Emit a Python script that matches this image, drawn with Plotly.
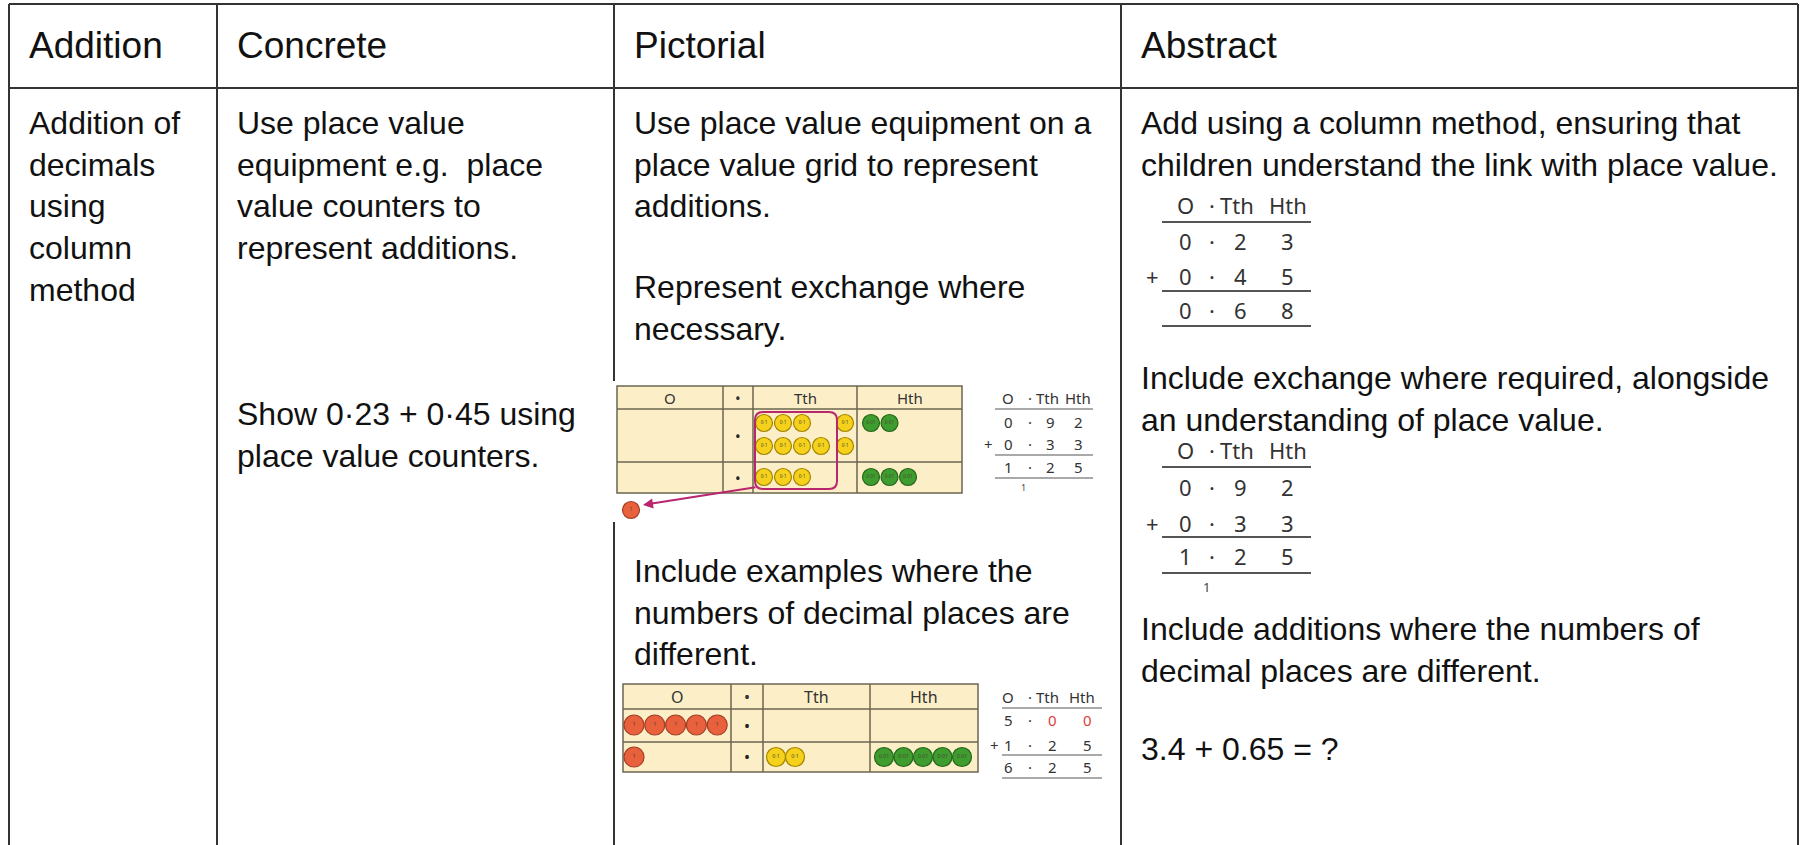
import plotly.graph_objects as go

W, H = 1803, 845

# ---------------- data ----------------
header_labels = ["Addition", "Concrete", "Pictorial", "Abstract"]

col1_lines = ["Addition of", "decimals", "using", "column", "method"]
col2_par1 = ["Use place value", "equipment e.g.\u00a0 place", "value counters to", "represent additions."]
col2_par2 = ["Show 0\u00b723 + 0\u00b745 using", "place value counters."]
col3_par1 = ["Use place value equipment on a", "place value grid to represent", "additions."]
col3_par2 = ["Represent exchange where", "necessary."]
col3_par3 = ["Include examples where the", "numbers of decimal places are", "different."]
col4_par1 = ["Add using a column method, ensuring that", "children understand the link with place value."]
col4_par2 = ["Include exchange where required, alongside", "an understanding of place value."]
col4_par3 = ["Include additions where the numbers of", "decimal places are different."]
col4_par4 = ["3.4 + 0.65 = ?"]

pv_headers = ["O", "\u2022", "Tth", "Hth"]
col_headers = ["O", "\u00b7", "Tth", "Hth"]

# place value grid 1: 0.92 + 0.33 (counts per row)
grid1_tth = [9, 3]
grid1_hth = [2, 3]
grid1_exchanged_ones = 1
# place value grid 2: 5 + 1.25
grid2_ones = [5, 1]
grid2_tth = [0, 2]
grid2_hth = [0, 5]

# column additions (ones, tenths, hundredths)
sum_a1 = [["0", "2", "3"], ["0", "4", "5"], ["0", "6", "8"]]
sum_a2 = [["0", "9", "2"], ["0", "3", "3"], ["1", "2", "5"]]
sum_p1 = [["0", "9", "2"], ["0", "3", "3"], ["1", "2", "5"]]
sum_p2 = [["5", "0", "0"], ["1", "2", "5"], ["6", "2", "5"]]
carry_digit = "1"

counter_labels = {"ones": "1", "tth": "0\u00b71", "hth": "0\u00b701"}

# ---------------- styling ----------------
FONT = "Liberation Sans, Arial, sans-serif"
MFONT = "Noto Sans, Open Sans, sans-serif"
BODY = 32
HEAD = 37
LINE = 41.7
TXT = "#111111"
GRID_FILL = "#FCEFC8"
GRID_LINE = "#6b6650"
YEL, YEL_E = "#F6D11C", "#A38400"
GRN, GRN_E = "#3F9C2F", "#256619"
RED, RED_E = "#E8603C", "#A33E25"
MAG = "#B8266E"

col_edges = [9, 217, 614, 1121, 1798]
row_edges = [4, 88, 850]
pad = 18

fig = go.Figure()
shapes = []
ann = []


def line(x0, y0, x1, y1, color="#333333", width=2):
    shapes.append(dict(type="line", x0=x0, y0=y0, x1=x1, y1=y1, xref="x", yref="y",
                       layer="below", line=dict(color=color, width=width)))


def text(x, y, s, size=BODY, color=TXT, family=FONT, xanchor="left"):
    ann.append(dict(x=x, y=y, text=s, xref="x", yref="y", showarrow=False,
                    xanchor=xanchor, yanchor="middle",
                    font=dict(family=family, size=size, color=color)))


def para(col, y0, lines):
    for i, s in enumerate(lines):
        text(col_edges[col] + pad, y0 + i * LINE, s)


# table borders
for x in col_edges:
    line(x, row_edges[0], x, row_edges[2])
line(col_edges[0], row_edges[0], col_edges[-1], row_edges[0])
line(col_edges[0], row_edges[1], col_edges[-1], row_edges[1])

# header
for i, s in enumerate(header_labels):
    text(col_edges[i] + pad, 45, s, size=HEAD)

# body text
para(0, 123, col1_lines)
para(1, 123, col2_par1)
para(1, 414, col2_par2)
para(2, 123, col3_par1)
para(2, 287, col3_par2)
para(2, 571, col3_par3)
para(3, 123, col4_par1)
para(3, 378, col4_par2)
para(3, 629, col4_par3)
para(3, 749, col4_par4)

# white background of pasted picture (covers border)
shapes.append(dict(type="rect", x0=611, x1=1104, y0=381, y1=522, xref="x", yref="y",
                   layer="below", fillcolor="white", line=dict(width=0)))


def pv_grid(xe, ye, hsize):
    shapes.append(dict(type="rect", x0=xe[0], x1=xe[-1], y0=ye[0], y1=ye[-1], xref="x", yref="y",
                       layer="below", fillcolor=GRID_FILL, line=dict(color=GRID_LINE, width=1.5)))
    for x in xe[1:-1]:
        line(x, ye[0], x, ye[-1], GRID_LINE, 1.5)
    for y in ye[1:-1]:
        line(xe[0], y, xe[-1], y, GRID_LINE, 1.5)
    hy = (ye[0] + ye[1]) / 2
    for i, s in enumerate(pv_headers):
        text((xe[i] + xe[i + 1]) / 2, hy, s, size=hsize, color="#333333", family=MFONT, xanchor="center")
    for r in range(len(ye) - 2):
        text((xe[1] + xe[2]) / 2, (ye[r + 1] + ye[r + 2]) / 2, "\u2022", size=hsize,
             color="#222222", family=MFONT, xanchor="center")


def counters(xs, ys, fill, edge, label, size):
    fig.add_trace(go.Scatter(x=xs, y=ys, mode="markers+text", text=[label] * len(xs),
                             textposition="middle center",
                             textfont=dict(size=max(4, size * 0.28), color="#4a4a30", family=MFONT),
                             marker=dict(size=size, color=fill, line=dict(color=edge, width=1.2)),
                             hoverinfo="skip", showlegend=False))


def row_positions(n, x0, step, y):
    return [x0 + step * k for k in range(n)], [y] * n


# ---- grid 1 ----
g1x = [617, 723, 753, 857, 962]
g1y = [386, 409, 462, 493]
pv_grid(g1x, g1y, 15)
tth_slots_x = [764, 783, 802, 821, 845]
tth_lines_y = [423, 446]
# first-row tenths: 7 grouped for exchange, 2 left over in the last slot
slot_order = [(0, 0), (1, 0), (2, 0), (0, 1), (1, 1), (2, 1), (3, 1), (4, 0), (4, 1)]
xs = [tth_slots_x[s] for s, l in slot_order[:grid1_tth[0]]]
ys = [tth_lines_y[l] for s, l in slot_order[:grid1_tth[0]]]
x2, y2 = row_positions(grid1_tth[1], 764, 19, 477)
counters(xs + x2, ys + y2, YEL, YEL_E, counter_labels["tth"], 17)
hx1, hy1 = row_positions(grid1_hth[0], 871, 18.5, 423)
hx2, hy2 = row_positions(grid1_hth[1], 871, 18.5, 477)
counters(hx1 + hx2, hy1 + hy2, GRN, GRN_E, counter_labels["hth"], 17)
ox, oy = row_positions(grid1_exchanged_ones, 631, 20, 510)
counters(ox, oy, RED, RED_E, counter_labels["ones"], 17)
# exchange loop and arrow
shapes.append(dict(type="path", xref="x", yref="y", layer="above",
                   path="M 763 412 L 829 412 Q 837 412 837 420 L 837 481 Q 837 489 829 489 "
                        "L 763 489 Q 755 489 755 481 L 755 420 Q 755 412 763 412 Z",
                   line=dict(color=MAG, width=2)))
ann.append(dict(x=643, y=505, ax=757, ay=487, xref="x", yref="y", axref="x", ayref="y",
                text="", showarrow=True, arrowhead=2, arrowsize=1, arrowwidth=2, arrowcolor=MAG))

# ---- grid 2 ----
g2x = [623, 731, 763, 870, 978]
g2y = [684, 709, 742, 772]
pv_grid(g2x, g2y, 16)
r1x, r1y = row_positions(grid2_ones[0], 634, 20.8, 725)
r2x, r2y = row_positions(grid2_ones[1], 634, 20.8, 757)
counters(r1x + r2x, r1y + r2y, RED, RED_E, counter_labels["ones"], 20)
t1x, t1y = row_positions(grid2_tth[0], 776, 19, 725)
t2x, t2y = row_positions(grid2_tth[1], 776, 19, 757)
counters(t1x + t2x, t1y + t2y, YEL, YEL_E, counter_labels["tth"], 19)
h1x, h1y = row_positions(grid2_hth[0], 884, 19.5, 725)
h2x, h2y = row_positions(grid2_hth[1], 884, 19.5, 757)
counters(h1x + h2x, h1y + h2y, GRN, GRN_E, counter_labels["hth"], 19)


# ---- column additions ----
def column_sum(hx, dx, plus_x, hy, rys, lys, lx, rows, fs, lw, red=None, carry=None):
    for i, s in enumerate(col_headers):
        text(hx[i], hy, s, size=fs, color="#333333", family=MFONT, xanchor="center")
    for r, digits in enumerate(rows):
        y = rys[r]
        vals = [digits[0], "\u00b7", digits[1], digits[2]]
        for i, s in enumerate(vals):
            c = "#333333"
            if red and (r, i) in red:
                c = "#E0403A"
            text(dx[i], y, s, size=fs, color=c, family=MFONT, xanchor="center")
    text(plus_x, rys[1], "+", size=fs, color="#333333", family=MFONT, xanchor="center")
    for y in lys:
        line(lx[0], y, lx[1], y, "#555555", lw)
    if carry:
        text(carry[0], carry[1], carry_digit, size=carry[2], color="#444444", family=MFONT, xanchor="center")


column_sum([1185, 1212, 1237, 1288], [1185, 1212, 1240, 1287], 1152, 205, [241, 276, 310],
           [222, 291, 326], (1162, 1311), sum_a1, 22, 2)
column_sum([1185, 1212, 1237, 1288], [1185, 1212, 1240, 1287], 1152, 450, [487, 523, 556],
           [467, 537, 573], (1162, 1311), sum_a2, 22, 2, carry=(1206, 587, 13))
column_sum([1008, 1030, 1047, 1078], [1008, 1030, 1050, 1078], 988, 398, [422, 444, 467],
           [409, 455, 478], (995, 1093), sum_p1, 15, 1.2, carry=(1023, 487, 9))
column_sum([1008, 1030, 1047, 1082], [1008, 1030, 1052, 1087], 994, 697, [720, 745, 767],
           [708, 755, 778], (1002, 1102), sum_p2, 15, 1.2, red={(0, 2), (0, 3)})

fig.update_layout(
    width=W, height=H, margin=dict(l=0, r=0, t=0, b=0),
    paper_bgcolor="white", plot_bgcolor="white",
    xaxis=dict(range=[0, W], visible=False, fixedrange=True),
    yaxis=dict(range=[H, 0], visible=False, fixedrange=True),
    shapes=shapes, annotations=ann, showlegend=False,
)

fig.write_html("out.html", config={"displayModeBar": False},
               post_script="document.body.style.margin='0';")
